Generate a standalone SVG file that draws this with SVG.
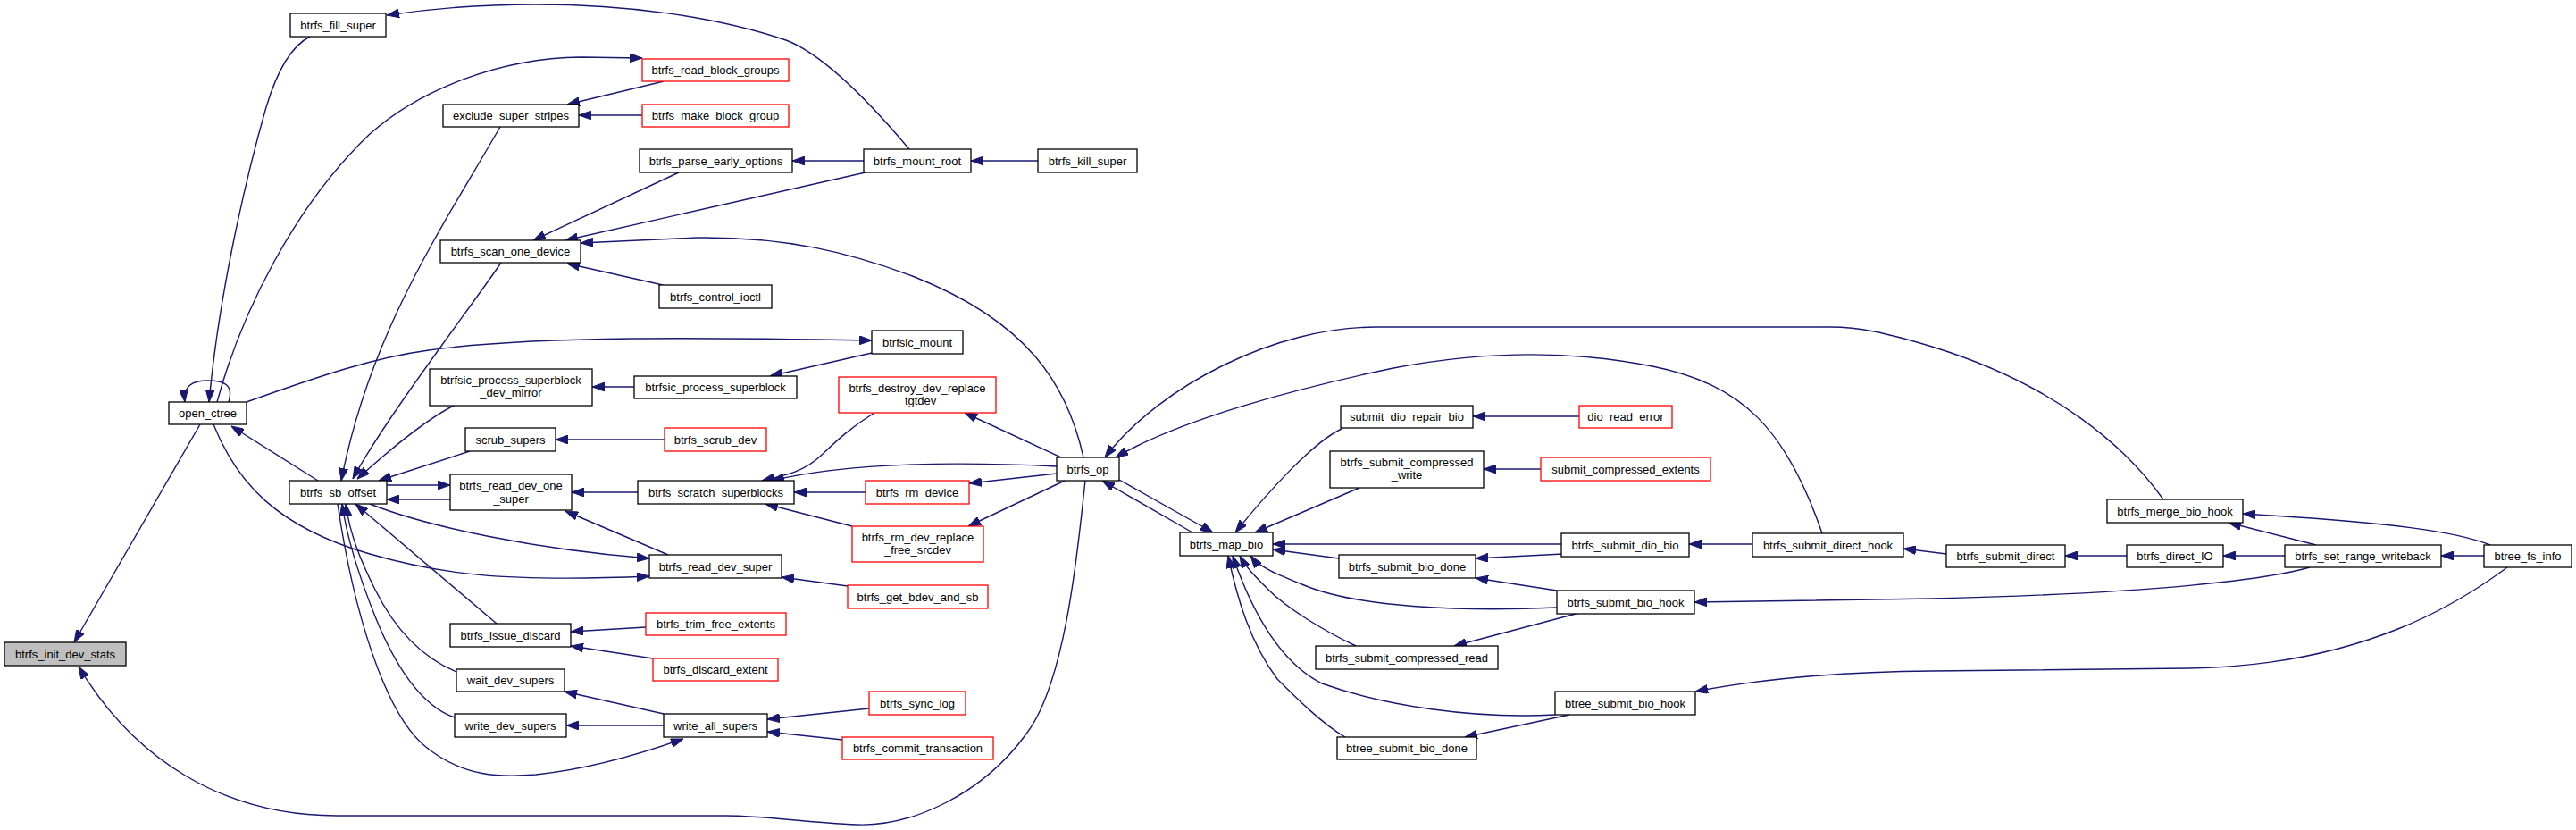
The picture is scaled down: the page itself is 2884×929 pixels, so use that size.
<svg xmlns="http://www.w3.org/2000/svg" width="2884" height="929" viewBox="0 0 2884 929">
<style>
.n rect{fill:#fff;stroke:#000;stroke-width:1.3}
.n.r rect{stroke:#ff0000}
.n.g rect{fill:#bfbfbf}
.n text{font-family:"Liberation Sans",Arial,Helvetica,sans-serif;font-size:13px;fill:#000;text-anchor:middle}
#edges path{fill:none;stroke:#191970;stroke-width:1.4;marker-end:url(#ah)}
</style>
<defs>
<marker id="ah" markerUnits="userSpaceOnUse" viewBox="0 0 14 10" refX="14" refY="5" markerWidth="14" markerHeight="10" orient="auto">
<path d="M0,0 L14,5 L0,10 z" fill="#191970" stroke="#191970" stroke-width="1"/>
</marker>
</defs>
<rect width="2884" height="929" fill="#fff"/>
<g id="edges">
<path d="M224,475 L83,719"/>
<path d="M1215,538 C1208,600 1195,760 1150,820 C1100,890 1020,925 960,923 C900,921 860,913 813,913 L377,913 C250,913 150,850 88,746"/>
<path d="M356,538 L259,477"/>
<path d="M256,450 C262,430 250,426 233,426 C215,426 205,432 207,450"/>
<path d="M347,41 C325,52 310,80 298,120 C275,200 245,330 234,450"/>
<path d="M243,450 C270,350 330,230 414,150 C470,100 560,65 650,64 L719,65"/>
<path d="M743,91 L635,117"/>
<path d="M719,129 L648,129"/>
<path d="M560,142 C495,255 415,370 382,538"/>
<path d="M561,294 C530,340 430,470 395,536"/>
<path d="M508,454 C480,468 440,500 400,536"/>
<path d="M526,505 L424,538"/>
<path d="M433,543 L504,543"/>
<path d="M504,559 L433,559"/>
<path d="M556,698 L398,564"/>
<path d="M511,752 C470,735 440,700 420,660 C405,630 392,600 387,564"/>
<path d="M509,803 C470,790 440,740 420,690 C400,640 388,600 383,564"/>
<path d="M378,564 C395,680 430,800 478,837 C520,870 560,870 600,867 C650,862 700,850 765,827"/>
<path d="M414,564 C480,590 600,615 727,625"/>
<path d="M239,475 C265,540 310,590 414,620 C490,642 560,652 727,645"/>
<path d="M748,621 L633,572"/>
<path d="M714,551 L640,551"/>
<path d="M949,656 L875,646"/>
<path d="M742,319 L635,295"/>
<path d="M760,193 L597,269"/>
<path d="M969,193 L633,269"/>
<path d="M1213,512 C1195,430 1150,360 1024,310 C950,282 880,265 780,266 L650,272"/>
<path d="M967,180 L887,180"/>
<path d="M1162,180 L1087,180"/>
<path d="M1018,167 C970,110 920,60 880,45 C800,18 700,5 600,5 C530,5 480,10 433,17"/>
<path d="M276,450 C360,420 420,400 480,392 C600,375 800,378 976,381"/>
<path d="M976,395 L862,421"/>
<path d="M710,433 L663,433"/>
<path d="M744,492 L622,492"/>
<path d="M979,462 C950,480 935,495 919,510 C900,528 880,532 853,538"/>
<path d="M1183,522 C1100,518 960,515 864,538"/>
<path d="M969,551 L889,551"/>
<path d="M954,589 L857,564"/>
<path d="M1188,512 L1080,462"/>
<path d="M1183,530 L1085,541"/>
<path d="M1192,538 L1084,589"/>
<path d="M1335,596 L1234,538"/>
<path d="M1253,537 L1358,596"/>
<path d="M2422,559 C2380,500 2300,430 2163,388 C2110,372 2080,366 2050,366 L1540,366 C1430,366 1300,430 1237,512"/>
<path d="M2040,597 C2000,480 1950,430 1850,410 C1750,390 1650,395 1560,412 C1450,435 1320,470 1249,512"/>
<path d="M1502,480 C1470,495 1420,550 1383,596"/>
<path d="M1522,546 L1405,596"/>
<path d="M1748,609 L1425,609"/>
<path d="M1499,625 L1425,615"/>
<path d="M1743,680 C1640,685 1520,680 1460,655 C1430,643 1410,635 1400,622"/>
<path d="M1518,723 C1480,705 1440,680 1420,660 C1405,645 1395,635 1388,622"/>
<path d="M1741,800 C1650,805 1550,790 1480,765 C1430,740 1400,680 1380,622"/>
<path d="M1506,825 C1480,810 1450,780 1430,760 C1400,720 1385,670 1375,622"/>
<path d="M1768,466 L1649,466"/>
<path d="M1725,525 L1661,525"/>
<path d="M1962,609 L1891,609"/>
<path d="M1750,620 L1652,625"/>
<path d="M1743,661 L1652,647"/>
<path d="M1768,686 L1628,723"/>
<path d="M1757,800 L1640,825"/>
<path d="M2179,620 L2131,614"/>
<path d="M2381,622 L2312,622"/>
<path d="M2558,622 L2489,622"/>
<path d="M2781,622 L2733,622"/>
<path d="M2593,610 L2495,585"/>
<path d="M2788,610 C2750,595 2680,585 2511,575"/>
<path d="M2586,635 C2540,648 2420,664 2163,670 C2050,672 1950,673 1897,674"/>
<path d="M2807,635 C2760,670 2650,745 2450,748 L2163,751 C2050,752 1960,762 1898,774"/>
<path d="M973,793 L859,805"/>
<path d="M943,828 L859,819"/>
<path d="M743,812 L634,812"/>
<path d="M743,799 L632,774"/>
<path d="M723,702 L639,707"/>
<path d="M731,737 L639,723"/>
</g>
<g id="n-btrfs_init_dev_stats" class="n g"><rect x="5" y="719" width="136" height="26"/><text x="73" y="737">btrfs_init_dev_stats</text></g>
<g id="n-open_ctree" class="n"><rect x="189" y="450" width="87" height="25"/><text x="232.5" y="467">open_ctree</text></g>
<g id="n-btrfs_fill_super" class="n"><rect x="325" y="15" width="107" height="26"/><text x="378.5" y="33">btrfs_fill_super</text></g>
<g id="n-btrfs_sb_offset" class="n"><rect x="324" y="538" width="109" height="26"/><text x="378.5" y="556">btrfs_sb_offset</text></g>
<g id="n-exclude_super_stripes" class="n"><rect x="496" y="117" width="152" height="25"/><text x="572" y="134">exclude_super_stripes</text></g>
<g id="n-btrfs_scan_one_device" class="n"><rect x="493" y="269" width="157" height="25"/><text x="571.5" y="286">btrfs_scan_one_device</text></g>
<g id="n-btrfsic_process_superblock_dev_mirror" class="n"><rect x="481" y="413" width="182" height="41"/><text x="572" y="430">btrfsic_process_superblock</text><text x="572" y="444">_dev_mirror</text></g>
<g id="n-scrub_supers" class="n"><rect x="521" y="479" width="101" height="26"/><text x="571.5" y="497">scrub_supers</text></g>
<g id="n-btrfs_read_dev_one_super" class="n"><rect x="504" y="531" width="136" height="40"/><text x="572" y="548">btrfs_read_dev_one</text><text x="572" y="563">_super</text></g>
<g id="n-btrfs_issue_discard" class="n"><rect x="504" y="698" width="135" height="26"/><text x="571.5" y="716">btrfs_issue_discard</text></g>
<g id="n-wait_dev_supers" class="n"><rect x="511" y="749" width="121" height="25"/><text x="571.5" y="766">wait_dev_supers</text></g>
<g id="n-write_dev_supers" class="n"><rect x="509" y="799" width="125" height="26"/><text x="571.5" y="817">write_dev_supers</text></g>
<g id="n-btrfs_read_block_groups" class="n r"><rect x="719" y="66" width="164" height="25"/><text x="801" y="83">btrfs_read_block_groups</text></g>
<g id="n-btrfs_make_block_group" class="n r"><rect x="719" y="117" width="164" height="25"/><text x="801" y="134">btrfs_make_block_group</text></g>
<g id="n-btrfs_parse_early_options" class="n"><rect x="716" y="167" width="171" height="26"/><text x="801.5" y="185">btrfs_parse_early_options</text></g>
<g id="n-btrfs_control_ioctl" class="n"><rect x="738" y="319" width="126" height="26"/><text x="801" y="337">btrfs_control_ioctl</text></g>
<g id="n-btrfsic_process_superblock" class="n"><rect x="710" y="421" width="182" height="25"/><text x="801" y="438">btrfsic_process_superblock</text></g>
<g id="n-btrfs_scrub_dev" class="n r"><rect x="744" y="479" width="114" height="26"/><text x="801" y="497">btrfs_scrub_dev</text></g>
<g id="n-btrfs_scratch_superblocks" class="n"><rect x="714" y="538" width="175" height="26"/><text x="801.5" y="556">btrfs_scratch_superblocks</text></g>
<g id="n-btrfs_read_dev_super" class="n"><rect x="727" y="621" width="148" height="26"/><text x="801" y="639">btrfs_read_dev_super</text></g>
<g id="n-btrfs_trim_free_extents" class="n r"><rect x="723" y="686" width="157" height="25"/><text x="801.5" y="703">btrfs_trim_free_extents</text></g>
<g id="n-btrfs_discard_extent" class="n r"><rect x="731" y="737" width="140" height="25"/><text x="801" y="754">btrfs_discard_extent</text></g>
<g id="n-write_all_supers" class="n"><rect x="743" y="799" width="116" height="26"/><text x="801" y="817">write_all_supers</text></g>
<g id="n-btrfs_mount_root" class="n"><rect x="967" y="167" width="120" height="26"/><text x="1027" y="185">btrfs_mount_root</text></g>
<g id="n-btrfsic_mount" class="n"><rect x="976" y="370" width="102" height="26"/><text x="1027" y="388">btrfsic_mount</text></g>
<g id="n-btrfs_destroy_dev_replace_tgtdev" class="n r"><rect x="939" y="422" width="176" height="40"/><text x="1027" y="439">btrfs_destroy_dev_replace</text><text x="1027" y="453">_tgtdev</text></g>
<g id="n-btrfs_rm_device" class="n r"><rect x="969" y="538" width="116" height="26"/><text x="1027" y="556">btrfs_rm_device</text></g>
<g id="n-btrfs_rm_dev_replace_free_srcdev" class="n r"><rect x="954" y="589" width="147" height="40"/><text x="1027.5" y="606">btrfs_rm_dev_replace</text><text x="1027.5" y="620">_free_srcdev</text></g>
<g id="n-btrfs_get_bdev_and_sb" class="n r"><rect x="949" y="655" width="157" height="26"/><text x="1027.5" y="673">btrfs_get_bdev_and_sb</text></g>
<g id="n-btrfs_sync_log" class="n r"><rect x="973" y="774" width="108" height="26"/><text x="1027" y="792">btrfs_sync_log</text></g>
<g id="n-btrfs_commit_transaction" class="n r"><rect x="943" y="825" width="169" height="25"/><text x="1027.5" y="842">btrfs_commit_transaction</text></g>
<g id="n-btrfs_kill_super" class="n"><rect x="1162" y="167" width="111" height="26"/><text x="1217.5" y="185">btrfs_kill_super</text></g>
<g id="n-btrfs_op" class="n"><rect x="1183" y="512" width="70" height="26"/><text x="1218" y="530">btrfs_op</text></g>
<g id="n-btrfs_map_bio" class="n"><rect x="1321" y="596" width="104" height="26"/><text x="1373" y="614">btrfs_map_bio</text></g>
<g id="n-submit_dio_repair_bio" class="n"><rect x="1501" y="454" width="148" height="25"/><text x="1575" y="471">submit_dio_repair_bio</text></g>
<g id="n-btrfs_submit_compressed_write" class="n"><rect x="1489" y="505" width="172" height="41"/><text x="1575" y="522">btrfs_submit_compressed</text><text x="1575" y="536">_write</text></g>
<g id="n-btrfs_submit_bio_done" class="n"><rect x="1499" y="621" width="153" height="26"/><text x="1575.5" y="639">btrfs_submit_bio_done</text></g>
<g id="n-btrfs_submit_compressed_read" class="n"><rect x="1473" y="723" width="204" height="26"/><text x="1575" y="741">btrfs_submit_compressed_read</text></g>
<g id="n-btree_submit_bio_done" class="n"><rect x="1497" y="825" width="156" height="25"/><text x="1575" y="842">btree_submit_bio_done</text></g>
<g id="n-dio_read_error" class="n r"><rect x="1768" y="454" width="104" height="25"/><text x="1820" y="471">dio_read_error</text></g>
<g id="n-submit_compressed_extents" class="n r"><rect x="1725" y="512" width="190" height="26"/><text x="1820" y="530">submit_compressed_extents</text></g>
<g id="n-btrfs_submit_dio_bio" class="n"><rect x="1748" y="597" width="143" height="26"/><text x="1819.5" y="615">btrfs_submit_dio_bio</text></g>
<g id="n-btrfs_submit_bio_hook" class="n"><rect x="1743" y="661" width="154" height="26"/><text x="1820" y="679">btrfs_submit_bio_hook</text></g>
<g id="n-btree_submit_bio_hook" class="n"><rect x="1741" y="774" width="157" height="26"/><text x="1819.5" y="792">btree_submit_bio_hook</text></g>
<g id="n-btrfs_submit_direct_hook" class="n"><rect x="1962" y="597" width="169" height="26"/><text x="2046.5" y="615">btrfs_submit_direct_hook</text></g>
<g id="n-btrfs_submit_direct" class="n"><rect x="2179" y="610" width="133" height="25"/><text x="2245.5" y="627">btrfs_submit_direct</text></g>
<g id="n-btrfs_merge_bio_hook" class="n"><rect x="2359" y="559" width="152" height="26"/><text x="2435" y="577">btrfs_merge_bio_hook</text></g>
<g id="n-btrfs_direct_IO" class="n"><rect x="2381" y="610" width="108" height="25"/><text x="2435" y="627">btrfs_direct_IO</text></g>
<g id="n-btrfs_set_range_writeback" class="n"><rect x="2558" y="610" width="175" height="25"/><text x="2645.5" y="627">btrfs_set_range_writeback</text></g>
<g id="n-btree_fs_info" class="n"><rect x="2781" y="610" width="98" height="25"/><text x="2830" y="627">btree_fs_info</text></g>
</svg>
